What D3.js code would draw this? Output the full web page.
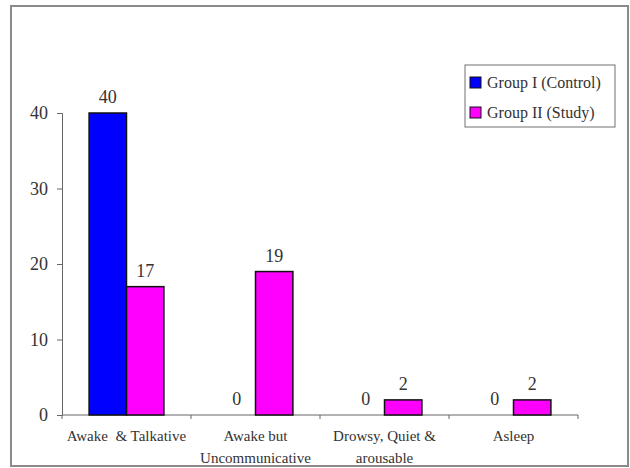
<!DOCTYPE html>
<html>
<head>
<meta charset="utf-8">
<script src="https://cdn.jsdelivr.net/npm/d3@7"></script>
<style>
  body { margin: 0; background: #fff; }
  svg text { font-family: 'Liberation Serif', 'Times New Roman', Times, 'DejaVu Serif', serif !important; fill: #333; }
</style>
</head>
<body>
<div class="chart-wrapper"></div>
<script>
// data
const categories = [["Awake  & Talkative"], ["Awake but", "Uncommunicative"], ["Drowsy, Quiet &", "arousable"], ["Asleep"]];
const groups = ["Group I (Control)", "Group II (Study)"];
const controlValues = [40, 0, 0, 0];
const studyValues = [17, 19, 2, 2];
const colors = ["#0000ff", "#ff00ff"];
const yTicks = [0, 10, 20, 30, 40];

const width = 630, height = 468;
const margin = {left: 62, right: 52, top: 113, bottom: 53};
const serif = "'Liberation Serif', 'Times New Roman', Times, serif";

let svg = d3.select('.chart-wrapper').append('svg')
  .attr('width', width)
  .attr('height', height)
  .attr('font-family', serif);

// outer frame
svg.append('rect')
  .attr('x', 11).attr('y', 6)
  .attr('width', 617).attr('height', 460)
  .attr('fill', 'none')
  .attr('stroke', '#8a8a8a')
  .attr('stroke-width', 2);

let x = d3.scaleBand()
  .domain(d3.range(categories.length))
  .range([margin.left, width - margin.right])
  .paddingInner(0.42)
  .paddingOuter(0.21);

let groupScale = d3.scaleBand()
  .domain(d3.range(groups.length))
  .range([0, x.bandwidth()]);

let y = d3.scaleLinear()
  .domain([0, 40])
  .range([height - margin.bottom, margin.top]);

let series = [controlValues, studyValues];

// axes
let yAxis = svg.append('g')
  .attr('transform', 'translate(' + margin.left + ',0)')
  .call(d3.axisLeft(y).tickValues(yTicks).tickSize(5).tickPadding(9))
  .attr('font-family', serif);
yAxis.select('.domain').attr('stroke', '#666');
yAxis.selectAll('.tick line').attr('stroke', '#666');
yAxis.selectAll('.tick text').style('font-size', '18px').attr('fill', '#333');

let step = x.step();
let tickPos = d3.range(categories.length + 1).map(i => margin.left + i * step);
let x0 = margin.left, x1 = width - margin.right;

let xAxis = svg.append('g');
xAxis.append('line')
  .attr('x1', x0).attr('x2', x1)
  .attr('y1', y(0)).attr('y2', y(0))
  .attr('stroke', '#666');
xAxis.selectAll('.xtick')
  .data(tickPos)
  .enter()
  .append('line')
  .attr('x1', d => d).attr('x2', d => d)
  .attr('y1', y(0)).attr('y2', y(0) + 4)
  .attr('stroke', '#666');

categories.forEach((lines, i) => {
  let t = xAxis.append('text')
    .attr('x', x(i) + x.bandwidth() / 2)
    .attr('y', y(0) + 26)
    .attr('text-anchor', 'middle')
    .style('font-size', '15px');
  lines.forEach((l, j) => {
    t.append('tspan')
      .attr('x', x(i) + x.bandwidth() / 2)
      .attr('dy', j === 0 ? 0 : 22)
      .style('white-space', 'pre')
      .text(l);
  });
});

// bars
series.forEach((vals, s) => {
  let g = svg.append('g');
  g.selectAll('rect')
    .data(vals)
    .enter()
    .append('rect')
    .attr('x', (d, i) => x(i) + groupScale(s))
    .attr('y', d => y(d))
    .attr('width', groupScale.bandwidth())
    .attr('height', d => y(0) - y(d))
    .attr('fill', colors[s])
    .attr('stroke', d => d > 0 ? '#111' : 'none')
    .attr('stroke-width', 1.5);

  g.selectAll('text')
    .data(vals)
    .enter()
    .append('text')
    .attr('x', (d, i) => x(i) + groupScale(s) + groupScale.bandwidth() / 2)
    .attr('y', d => y(d) - 10)
    .attr('text-anchor', 'middle')
    .style('font-size', '18px')
    .text(d => d);
});

// legend
let legend = svg.append('g');
legend.append('rect')
  .attr('x', 465).attr('y', 65)
  .attr('width', 150).attr('height', 62)
  .attr('fill', '#fff')
  .attr('stroke', '#888')
  .attr('stroke-width', 1.2);

groups.forEach((name, i) => {
  let yy = 83 + i * 30;
  legend.append('rect')
    .attr('x', 470).attr('y', yy - 6)
    .attr('width', 11).attr('height', 11)
    .attr('fill', colors[i])
    .attr('stroke', '#111');
  legend.append('text')
    .attr('x', 487).attr('y', yy + 5)
    .style('font-size', '16px')
    .text(name);
});
</script>
</body>
</html>
